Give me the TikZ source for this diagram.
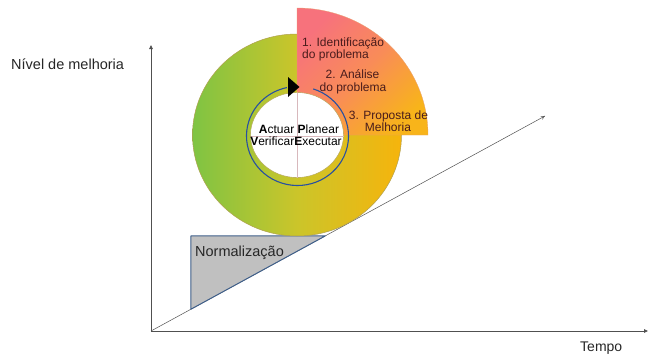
\documentclass[tikz,border=0pt]{standalone}
\usepackage{fontspec}
\setmainfont{Liberation Sans}
\usetikzlibrary{arrows.meta,calc}
\definecolor{axisgray}{HTML}{505050}
\definecolor{ringgreen}{HTML}{7FC443}
\definecolor{ringmid}{HTML}{CBC52A}
\definecolor{ringorange}{HTML}{F6B40C}
\definecolor{ringedge}{HTML}{B0A050}
\definecolor{secpink}{HTML}{F7727C}
\definecolor{secmid}{HTML}{F98C58}
\definecolor{secorange}{HTML}{F8B41A}
\definecolor{secedge}{HTML}{E8A070}
\definecolor{txtbrown}{HTML}{4A1C1C}
\definecolor{divline}{HTML}{D8B8BC}
\definecolor{cyclblue}{HTML}{2850A0}
\definecolor{normgray}{HTML}{C0C0C0}
\definecolor{normblue}{HTML}{3F5F8A}
\begin{document}
\begin{tikzpicture}[x=1pt,y=-1pt,
  axisline/.style={draw=axisgray, line width=0.8pt, -{Triangle[length=4pt,width=3.5pt]}},
  trendline/.style={draw=axisgray, line width=0.5pt, -{To[length=4pt,width=4pt]}},
  sectxt/.style={font=\fontsize{12}{14}\selectfont, text=txtbrown, inner sep=0pt, anchor=base},
  midtxt/.style={font=\fontsize{12}{14}\selectfont, text=black, inner sep=0pt, anchor=base},
  axtxt/.style={font=\fontsize{14.5}{17}\selectfont, text=black!85, inner sep=0pt, anchor=base west},
  divider/.style={draw=divline, line width=0.8pt}]
\useasboundingbox (0,0) rectangle (649,356);
% axes
\coordinate (O) at (151,331);
\coordinate (ytop) at (151,45);
\coordinate (xend) at (648,331);
\coordinate (dend) at (545,116);
\draw[axisline] (O) -- (ytop);
\draw[axisline] (O) -- (xend);
\draw[trendline] (O) -- (dend);
% normalization triangle
\coordinate (tb) at ($(O)!0.1015!(dend)$);
\coordinate (tr) at ($(O)!0.442!(dend)$);
\coordinate (tl) at (tb |- tr);
\filldraw[fill=normgray, draw=normblue, line width=1pt, line join=round] (tb) -- (tl) -- (tr) -- cycle;
% ring
\coordinate (C) at (297,135);
\shadedraw[left color=ringgreen, right color=ringorange, middle color=ringmid, draw=ringedge, line width=0.5pt]
  (C) ellipse [x radius=104.5, y radius=101];
% sector
\shadedraw[top color=secpink, bottom color=secorange, middle color=secmid, shading angle=45, draw=secedge, line width=0.3pt]
  (C) -- ($(C)+(0,-127)$) arc [start angle=-90, end angle=0, x radius=131, y radius=127] -- cycle;
% inner disc
\filldraw[fill=white, draw=ringedge, line width=0.4pt] (C) ellipse [x radius=46.5, y radius=42.5];
\coordinate (dvt) at (297,93);
\coordinate (dvb) at (297,177.5);
\coordinate (dhl) at (250.5,136);
\coordinate (dhr) at (343.5,136);
\draw[divider] (dvt) -- (dvb);
\draw[divider] (dhl) -- (dhr);
% cycle arrow
\coordinate (B) at (297.5,136);
\draw[cyclblue, line width=1.1pt] ($(B)+(-72:51 and 49.5)$) arc [start angle=-72, end angle=258, x radius=51, y radius=49.5];
\coordinate (ah1) at (288,77);
\coordinate (ah2) at (299.5,87);
\coordinate (ah3) at (288,97);
\fill[black] (ah1) -- (ah2) -- (ah3) -- cycle;
% texts
\node[sectxt, anchor=base west] (s1a) at (302,46.7) {1. Identificação};
\node[sectxt, anchor=base west] (s1b) at (302,58.8) {do problema};
\node[sectxt] (s2a) at (352.5,78.3) {2. Análise};
\node[sectxt] (s2b) at (353,91.7) {do problema};
\node[sectxt] (s3a) at (388.5,119.3) {3. Proposta de};
\node[sectxt] (s3b) at (388,131.7) {Melhoria};
\node[midtxt] (apl) at (299,133.3) {\textbf{A}ctuar \textbf{P}lanear};
\node[midtxt] (vex) at (296,145) {\textbf{V}erificar\textbf{E}xecutar};
\node[axtxt] (norm) at (195,256) {Normalização};
\node[axtxt] (ylab) at (11,69.3) {Nível de melhoria};
\node[axtxt, font=\fontsize{14}{16}\selectfont] (tempo) at (580,351.7) {Tempo};
\end{tikzpicture}
\end{document}
